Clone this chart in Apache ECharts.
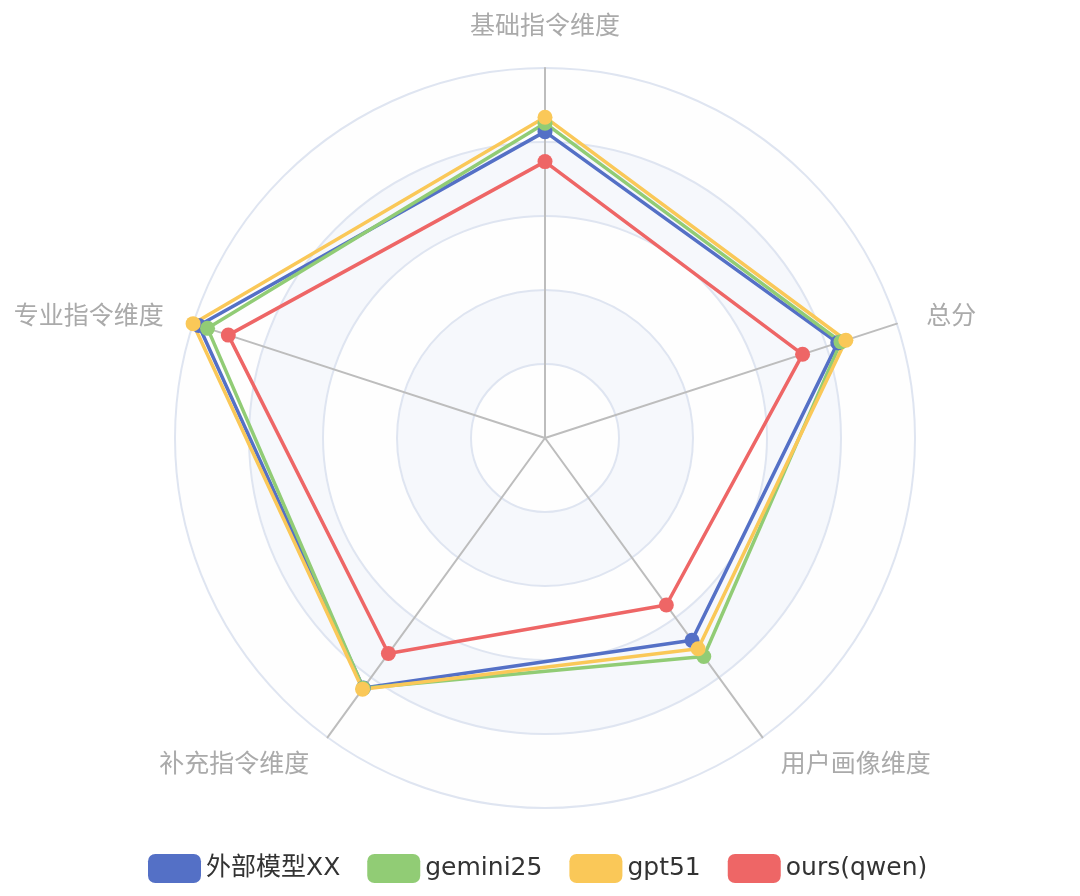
<!DOCTYPE html>
<html>
<head>
<meta charset="utf-8">
<script src="https://cdn.jsdelivr.net/npm/echarts@6/dist/echarts.min.js"></script>
<style>
html,body{margin:0;padding:0;background:#fff;}
#main{width:1080px;height:896px;}
</style>
</head>
<body>
<div id="main"></div>
<script>
// Indicators (ECharts radar places them counter-clockwise starting at top)
const indicatorNames = ['基础指令维度', '专业指令维度', '补充指令维度', '用户画像维度', '总分'];
const indicatorMax = 100;
const seriesNames = ['外部模型XX', 'gemini25', 'gpt51', 'ours(qwen)'];
const externalXX = [82.8, 98.4, 83.5, 67.6, 83.2];
const gemini25   = [85.1, 95.9, 83.6, 73.0, 84.1];
const gpt51      = [86.7, 100.0, 83.9, 70.4, 85.5];
const oursQwen   = [74.7, 90.0, 72.0, 55.8, 73.2];
const colors = ['#5470c6', '#91cc75', '#fac858', '#ee6666'];

const seriesValues = [externalXX, gemini25, gpt51, oursQwen];

const chart = echarts.init(document.getElementById('main'));
chart.setOption({
  backgroundColor: '#ffffff',
  color: colors,
  legend: {
    data: seriesNames,
    left: 143,
    top: 849,
    icon: 'roundRect',
    itemWidth: 53,
    itemHeight: 29,
    itemGap: 27,
    textStyle: { fontSize: 25, color: '#333', fontFamily: '"DejaVu Sans", "Noto Sans CJK SC", sans-serif' }
  },
  radar: {
    center: [545, 438],
    radius: 370,
    shape: 'circle',
    splitNumber: 5,
    axisNameGap: 31,
    indicator: indicatorNames.map(n => ({ name: n, max: indicatorMax })),
    axisName: { color: '#aaa', fontSize: 25, fontFamily: '"Noto Sans CJK SC", sans-serif' },
    axisLine: { lineStyle: { color: '#bdbdbd', width: 2 } },
    splitLine: { lineStyle: { color: '#dfe5f1', width: 2 } },
    splitArea: { show: true, areaStyle: { color: ['rgba(250,250,250,0.2)', 'rgba(210,219,238,0.2)'] } }
  },
  series: [{
    type: 'radar',
    symbol: 'circle',
    symbolSize: 15,
    lineStyle: { width: 3.5 },
    data: seriesNames.map((n, i) => ({
      name: n,
      value: seriesValues[i],
      itemStyle: { color: colors[i] },
      lineStyle: { color: colors[i], width: 3.5 }
    }))
  }]
});
</script>
</body>
</html>
